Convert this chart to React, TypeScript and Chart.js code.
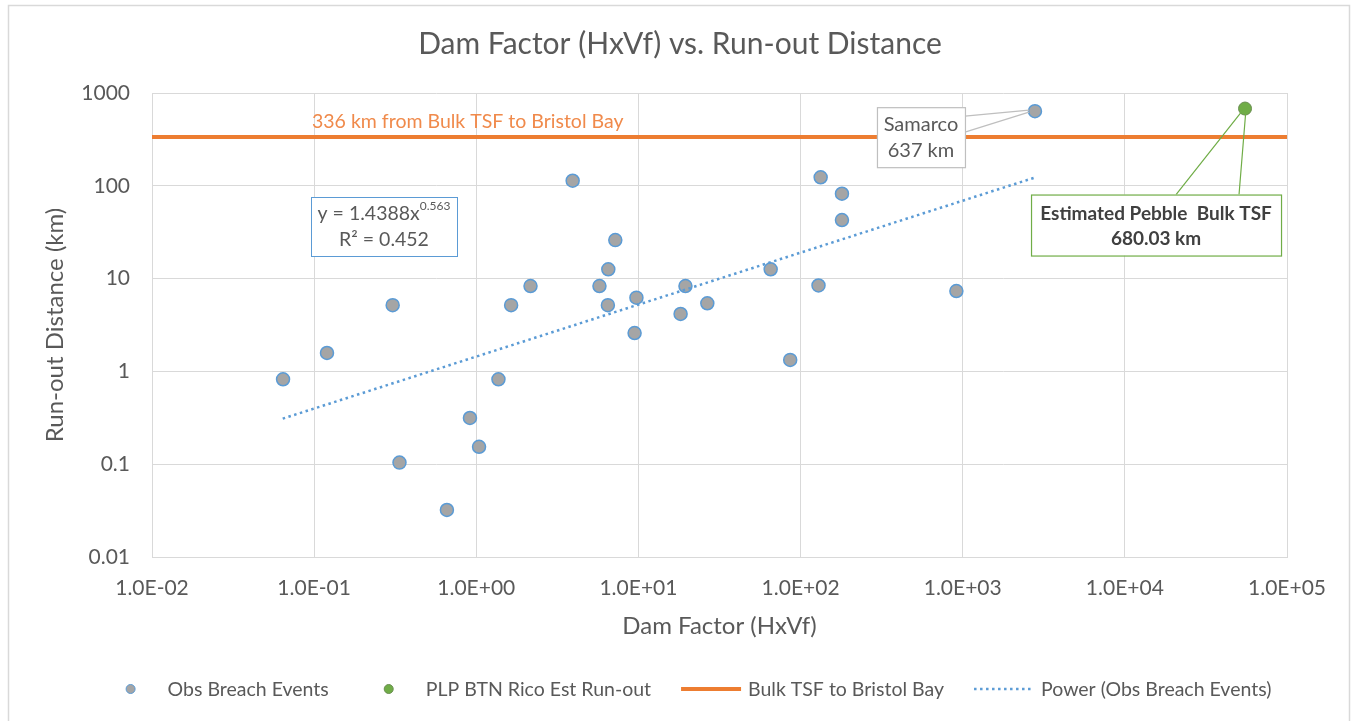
import React, { useEffect, useRef } from 'react';
import { Chart, registerables } from 'chart.js';

Chart.register(...registerables);

// ---------- data ----------
const obsDamFactor = [0.0643, 0.12, 0.305, 0.336, 0.659, 0.914, 1.04, 1.37, 1.64, 2.16, 3.93, 5.75, 6.52, 6.48, 7.2, 9.47, 9.72, 18.2, 19.5, 26.6, 65.4, 86.3, 129, 133, 180, 180, 914, 2790];
const obsRunout = [0.822, 1.58, 5.17, 0.104, 0.0321, 0.315, 0.154, 0.822, 5.17, 8.32, 113.5, 8.32, 12.6, 5.17, 26, 2.59, 6.23, 4.16, 8.32, 5.42, 12.6, 1.33, 8.43, 123.5, 82.2, 42.8, 7.35, 637];
const samarcoIndex = 27;
const samarcoLabel = ['Samarco', '637 km'];
const pebbleDamFactor = [55100];
const pebbleRunout = [680.03];
const pebbleLabel = ['Estimated Pebble  Bulk TSF', '680.03 km'];
const bulkLineX = [0.01, 100000];
const bulkLineY = [336, 336];
const bulkLabel = '336 km from Bulk TSF to Bristol Bay';
const trendX = [0.064, 2800];
const trendY = [0.31, 123];
const trendCoef = '1.4388';
const trendExp = '0.563';
const trendR2 = '0.452';
const xTicks = [0.01, 0.1, 1, 10, 100, 1000, 10000, 100000];
const xTickLabels = ['1.0E-02', '1.0E-01', '1.0E+00', '1.0E+01', '1.0E+02', '1.0E+03', '1.0E+04', '1.0E+05'];
const yTicks = [0.01, 0.1, 1, 10, 100, 1000];
const yTickLabels = ['0.01', '0.1', '1', '10', '100', '1000'];
const seriesNames = ['Obs Breach Events', 'PLP BTN Rico Est Run-out', 'Bulk TSF to Bristol Bay', 'Power (Obs Breach Events)'];
const chartTitle = 'Dam Factor (HxVf) vs. Run-out Distance';
const xTitle = 'Dam Factor (HxVf)';
const yTitle = 'Run-out Distance (km)';

// ---------- style ----------
const FONT = 'Lato, "Open Sans", sans-serif';
const TEXT = '#595959';
const GRID = '#d9d9d9';
const OBS_FILL = '#a5a5a5';
const OBS_BORDER = '#5b9bd5';
const GREEN = '#70ad47';
const ORANGE = '#ed7d31';
const BLUE = '#5b9bd5';

const decorPlugin = {
  id: 'decor',
  beforeDraw(chart: any) {
    const { ctx, width, height } = chart;
    ctx.save();
    ctx.fillStyle = '#ffffff';
    ctx.fillRect(0, 0, width, height);
    ctx.strokeStyle = '#d9d9d9';
    ctx.lineWidth = 1.5;
    ctx.beginPath();
    ctx.moveTo(8.5, height + 2);
    ctx.lineTo(8.5, 5.5);
    ctx.lineTo(1349.5, 5.5);
    ctx.lineTo(1349.5, height + 2);
    ctx.stroke();
    // title
    ctx.fillStyle = TEXT;
    ctx.font = `30px ${FONT}`;
    ctx.textAlign = 'center';
    ctx.textBaseline = 'alphabetic';
    ctx.fillText(chartTitle, 680, 54);
    ctx.restore();
  },
  afterDatasetsDraw(chart: any) {
    const { ctx, scales, chartArea } = chart;
    const x = scales.x;
    const y = scales.y;
    ctx.save();
    ctx.textBaseline = 'alphabetic';

    // orange line label
    const lineY = y.getPixelForValue(bulkLineY[0]);
    ctx.font = `19.5px ${FONT}`;
    ctx.fillStyle = '#f08a4b';
    ctx.textAlign = 'left';
    ctx.fillText(bulkLabel, chartArea.left + 160, lineY - 9);

    // trendline equation box
    const eL = chartArea.left + 159;
    const eT = chartArea.top + 104;
    const eW = 146;
    const eH = 59;
    ctx.fillStyle = '#ffffff';
    ctx.fillRect(eL, eT, eW, eH);
    ctx.strokeStyle = BLUE;
    ctx.lineWidth = 1;
    ctx.strokeRect(eL + 0.5, eT + 0.5, eW, eH);
    ctx.fillStyle = TEXT;
    const main = `y = ${trendCoef}x`;
    ctx.font = `19.5px ${FONT}`;
    const mw = ctx.measureText(main).width;
    ctx.font = `12px ${FONT}`;
    const sw = ctx.measureText(trendExp).width;
    const sx0 = eL + eW / 2 - (mw + sw) / 2;
    ctx.font = `19.5px ${FONT}`;
    ctx.textAlign = 'left';
    ctx.fillText(main, sx0, eT + 23);
    ctx.font = `12px ${FONT}`;
    ctx.fillText(trendExp, sx0 + mw, eT + 13);
    ctx.font = `19.5px ${FONT}`;
    ctx.textAlign = 'center';
    ctx.fillText(`R\u00b2 = ${trendR2}`, eL + eW / 2, eT + 49);

    // Samarco label
    const spx = x.getPixelForValue(obsDamFactor[samarcoIndex]);
    const spy = y.getPixelForValue(obsRunout[samarcoIndex]);
    const sL = spx - 158;
    const sR = spx - 70;
    const sT = spy - 4;
    const sB = spy + 56;
    ctx.strokeStyle = '#bfbfbf';
    ctx.lineWidth = 1.2;
    ctx.beginPath();
    ctx.moveTo(sR, spy + 5);
    ctx.lineTo(spx - 6, spy - 1);
    ctx.moveTo(sR, spy + 21);
    ctx.lineTo(spx - 6, spy + 1);
    ctx.stroke();
    ctx.fillStyle = '#ffffff';
    ctx.fillRect(sL, sT, sR - sL, sB - sT);
    ctx.strokeRect(sL + 0.5, sT + 0.5, sR - sL, sB - sT);
    ctx.fillStyle = TEXT;
    ctx.font = `20px ${FONT}`;
    ctx.textAlign = 'center';
    ctx.fillText(samarcoLabel[0], (sL + sR) / 2, spy + 20);
    ctx.fillText(samarcoLabel[1], (sL + sR) / 2, spy + 46);

    // Pebble label
    const gpx = x.getPixelForValue(pebbleDamFactor[0]);
    const gpy = y.getPixelForValue(pebbleRunout[0]);
    const gL = gpx - 214;
    const gR = gpx + 36;
    const gT = gpy + 86;
    const gB = gpy + 147;
    ctx.strokeStyle = GREEN;
    ctx.lineWidth = 1.2;
    ctx.beginPath();
    ctx.moveTo(gpx - 69, gT);
    ctx.lineTo(gpx - 1, gpy);
    ctx.moveTo(gpx - 6, gT);
    ctx.lineTo(gpx + 1, gpy);
    ctx.stroke();
    ctx.fillStyle = '#ffffff';
    ctx.fillRect(gL, gT, gR - gL, gB - gT);
    ctx.strokeRect(gL + 0.5, gT + 0.5, gR - gL, gB - gT);
    ctx.fillStyle = '#404040';
    ctx.font = `bold 19px ${FONT}`;
    ctx.fillText(pebbleLabel[0], (gL + gR) / 2, gpy + 111);
    ctx.fillText(pebbleLabel[1], (gL + gR) / 2, gpy + 136);
    ctx.restore();
  },
  afterDraw(chart: any) {
    const { ctx } = chart;
    ctx.save();
    ctx.font = `19.5px ${FONT}`;
    ctx.textBaseline = 'alphabetic';
    ctx.textAlign = 'left';
    const sampleW = 60;
    const afterSample = 7;
    const itemGap = 30;
    const widths = seriesNames.map((n) => sampleW + afterSample + ctx.measureText(n).width);
    const total = widths.reduce((a, b) => a + b, 0) + itemGap * (seriesNames.length - 1);
    let cx = 686 - total / 2;
    const ly = 689;
    seriesNames.forEach((name, i) => {
      const mid = cx + sampleW / 2;
      ctx.setLineDash([]);
      if (i === 0 || i === 1) {
        ctx.beginPath();
        ctx.arc(mid, ly, 4.5, 0, Math.PI * 2);
        ctx.fillStyle = i === 0 ? OBS_FILL : GREEN;
        ctx.fill();
        ctx.lineWidth = 1;
        ctx.strokeStyle = i === 0 ? OBS_BORDER : '#6b8f52';
        ctx.stroke();
      } else if (i === 2) {
        ctx.beginPath();
        ctx.moveTo(cx, ly);
        ctx.lineTo(cx + sampleW, ly);
        ctx.lineWidth = 4;
        ctx.strokeStyle = ORANGE;
        ctx.stroke();
      } else {
        ctx.beginPath();
        ctx.setLineDash([2.5, 3.5]);
        ctx.moveTo(cx, ly);
        ctx.lineTo(cx + sampleW, ly);
        ctx.lineWidth = 2.5;
        ctx.strokeStyle = BLUE;
        ctx.stroke();
        ctx.setLineDash([]);
      }
      ctx.fillStyle = TEXT;
      ctx.fillText(name, cx + sampleW + afterSample, ly + 7);
      cx += widths[i] + itemGap;
    });
    ctx.restore();
  },
};

export default function App() {
  const canvasRef = useRef<HTMLCanvasElement | null>(null);

  useEffect(() => {
    const canvas = canvasRef.current;
    if (!canvas) return;
    const obsData = obsDamFactor.map((v, i) => ({ x: v, y: obsRunout[i] }));
    const pebbleData = pebbleDamFactor.map((v, i) => ({ x: v, y: pebbleRunout[i] }));
    const bulkData = bulkLineX.map((v, i) => ({ x: v, y: bulkLineY[i] }));
    const trendData = trendX.map((v, i) => ({ x: v, y: trendY[i] }));

    const chart = new Chart(canvas, {
      type: 'scatter',
      data: {
        datasets: [
          {
            label: seriesNames[0],
            data: obsData,
            backgroundColor: OBS_FILL,
            borderColor: OBS_BORDER,
            borderWidth: 1.5,
            pointRadius: 6.5,
            order: 2,
          },
          {
            label: seriesNames[1],
            data: pebbleData,
            backgroundColor: GREEN,
            borderColor: '#6b8f52',
            borderWidth: 1,
            pointRadius: 6.5,
            order: 1,
          },
          {
            label: seriesNames[2],
            data: bulkData,
            showLine: true,
            borderColor: ORANGE,
            borderWidth: 4,
            pointRadius: 0,
            order: 3,
          },
          {
            label: seriesNames[3],
            data: trendData,
            showLine: true,
            borderColor: BLUE,
            borderWidth: 2.5,
            borderDash: [2.5, 3.5],
            pointRadius: 0,
            order: 0,
          },
        ],
      },
      options: {
        animation: false,
        responsive: true,
        maintainAspectRatio: false,
        layout: { padding: { top: 93, right: 66, bottom: 80.6, left: 30 } },
        plugins: {
          legend: { display: false },
          title: { display: false },
          tooltip: { enabled: false },
        },
        scales: {
          x: {
            type: 'logarithmic',
            min: 0.01,
            max: 100000,
            afterBuildTicks: (scale: any) => {
              scale.ticks = xTicks.map((v) => ({ value: v }));
            },
            afterFit: (scale: any) => {
              scale.height = 83.4;
            },
            ticks: {
              autoSkip: false,
              maxRotation: 0,
              padding: 18.5,
              color: TEXT,
              font: { family: FONT, size: 21 },
              callback: (_v: any, i: number) => xTickLabels[i],
            },
            grid: { color: GRID, lineWidth: 1, drawTicks: false },
            border: { color: GRID, width: 1 },
            title: {
              display: true,
              text: xTitle,
              color: TEXT,
              font: { family: FONT, size: 24 },
              padding: { top: 0, bottom: 0 },
            },
          },
          y: {
            type: 'logarithmic',
            min: 0.01,
            max: 1000,
            afterBuildTicks: (scale: any) => {
              scale.ticks = yTicks.map((v) => ({ value: v }));
            },
            afterFit: (scale: any) => {
              scale.width = 122;
            },
            ticks: {
              autoSkip: false,
              padding: 22,
              color: TEXT,
              font: { family: FONT, size: 21 },
              callback: (_v: any, i: number) => yTickLabels[i],
            },
            grid: { color: GRID, lineWidth: 1, drawTicks: false },
            border: { color: GRID, width: 1 },
            title: {
              display: true,
              text: yTitle,
              color: TEXT,
              font: { family: FONT, size: 24 },
              padding: { top: 10.6, bottom: 0 },
            },
          },
        },
      },
      plugins: [decorPlugin],
    } as any);
    return () => chart.destroy();
  }, []);

  return (
    <div style={{ position: 'fixed', left: 0, top: 0, width: '1353px', height: '721px', background: '#fff' }}>
      <canvas ref={canvasRef} />
    </div>
  );
}
